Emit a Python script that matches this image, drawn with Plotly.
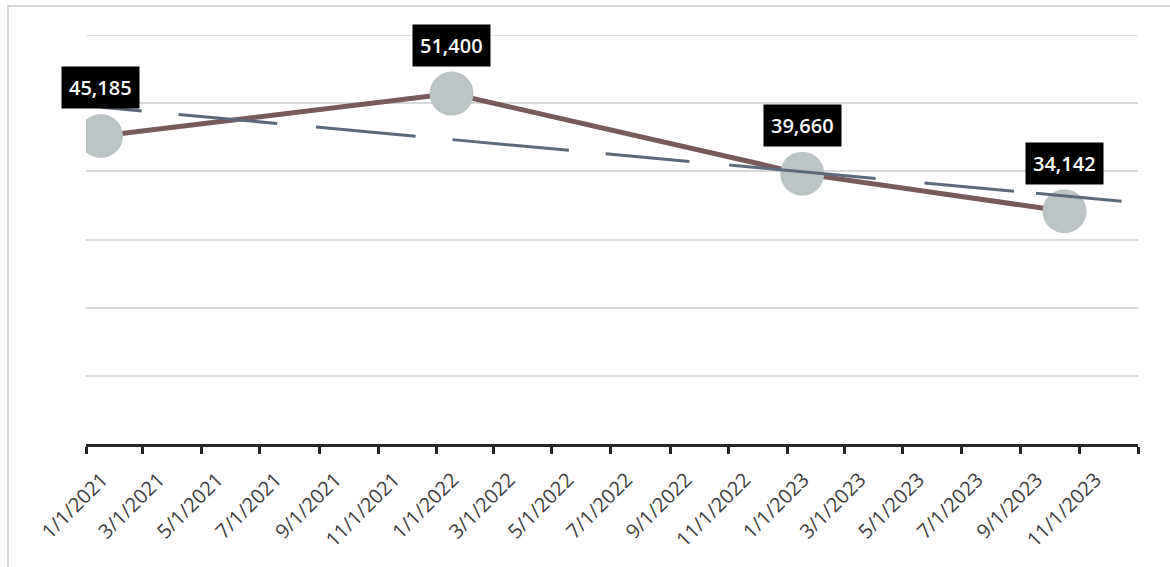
import numpy as np
import pandas as pd
import plotly.graph_objects as go

# Monthly observations
months = ["2021-01", "2022-01", "2023-01", "2023-10"]
values = [45185, 51400, 39660, 34142]

# Axis span and trend extent
axis_start = "2021-01-01"
axis_end = "2024-01-01"
trend_last_month = "2023-12"
y_max = 60000
y_step = 10000

LINE_COLOR = "#785b5b"
MARKER_COLOR = "#bcc3c4"
TREND_COLOR = "#5c6a7a"
GRID_COLOR = "#d9d9d9"
AXIS_COLOR = "#262626"
TICK_COLOR = "#404040"


def month_mid(m):
    start = pd.Timestamp(m + "-01")
    end = start + pd.offsets.MonthBegin(1)
    return start + (end - start) / 2


def month_index(m):
    ts = pd.Timestamp(m + "-01")
    return (ts.year - 2021) * 12 + ts.month - 1


x_mid = [month_mid(m) for m in months]

# Linear trend fitted on month index
idx = np.array([month_index(m) for m in months], dtype=float)
slope, intercept = np.polyfit(idx, np.array(values, dtype=float), 1)
trend_months = [months[0], trend_last_month]
trend_x = [month_mid(m) for m in trend_months]
trend_y = [intercept + slope * month_index(m) for m in trend_months]

# Bimonthly ticks; the closing tick at the axis end carries no label
tick_dates = pd.date_range(axis_start, axis_end, freq="2MS")
tick_text = [f"{d.month}/{d.day}/{d.year}" for d in tick_dates]
tick_text[-1] = ""

fig = go.Figure()

fig.add_trace(go.Scatter(
    x=x_mid, y=values, mode="lines+markers",
    line=dict(color=LINE_COLOR, width=5),
    marker=dict(color=MARKER_COLOR, size=44, line=dict(width=0)),
    hoverinfo="skip", showlegend=False,
))

fig.add_trace(go.Scatter(
    x=trend_x, y=trend_y, mode="lines",
    line=dict(color=TREND_COLOR, width=3,
              dash="41px,37px,99px,39px,100px,37px,117px,37px,84px,40px,147px,49px,90px,22px,86px,60px"),
    hoverinfo="skip", showlegend=False,
))

for xm, v in zip(x_mid, values):
    fig.add_annotation(
        x=xm, y=v, text=f"{v:,}", showarrow=False, yshift=48,
        bgcolor="#000000", borderpad=7,
        font=dict(family="Open Sans", size=20, color="#ffffff", weight=600),
    )

# Top gridline at the axis maximum
fig.add_hline(y=y_max, line=dict(color=GRID_COLOR, width=1.5), layer="below")

# Chart frame
pw, ph = 1170 - 86 - 32, 567 - 35 - 123
fig.add_shape(
    type="rect", xref="paper", yref="paper",
    x0=(8 - 86) / pw, x1=1.2, y0=-0.5, y1=(444 - 6) / ph,
    line=dict(color=GRID_COLOR, width=2), layer="below",
)

fig.update_layout(
    width=1170, height=567,
    margin=dict(l=86, r=32, t=35, b=123, autoexpand=False),
    paper_bgcolor="#ffffff", plot_bgcolor="#ffffff",
    showlegend=False,
)

fig.update_xaxes(
    type="date", range=[axis_start, axis_end],
    tickmode="array", tickvals=tick_dates, ticktext=tick_text,
    tickangle=-45, ticks="outside", ticklen=7, tickwidth=2.5,
    tickcolor=AXIS_COLOR, showline=True, linecolor=AXIS_COLOR, linewidth=3,
    showgrid=False, zeroline=False,
    tickfont=dict(family="Open Sans", size=20, color=TICK_COLOR),
    ticklabelshift=16, ticklabelstandoff=6,
    automargin=False,
)

fig.update_yaxes(
    range=[0, y_max], dtick=y_step, tick0=0,
    showgrid=True, gridcolor=GRID_COLOR, gridwidth=1.5,
    showticklabels=False, zeroline=False, showline=False, ticks="",
    automargin=False,
)

fig.write_html("out.html")
